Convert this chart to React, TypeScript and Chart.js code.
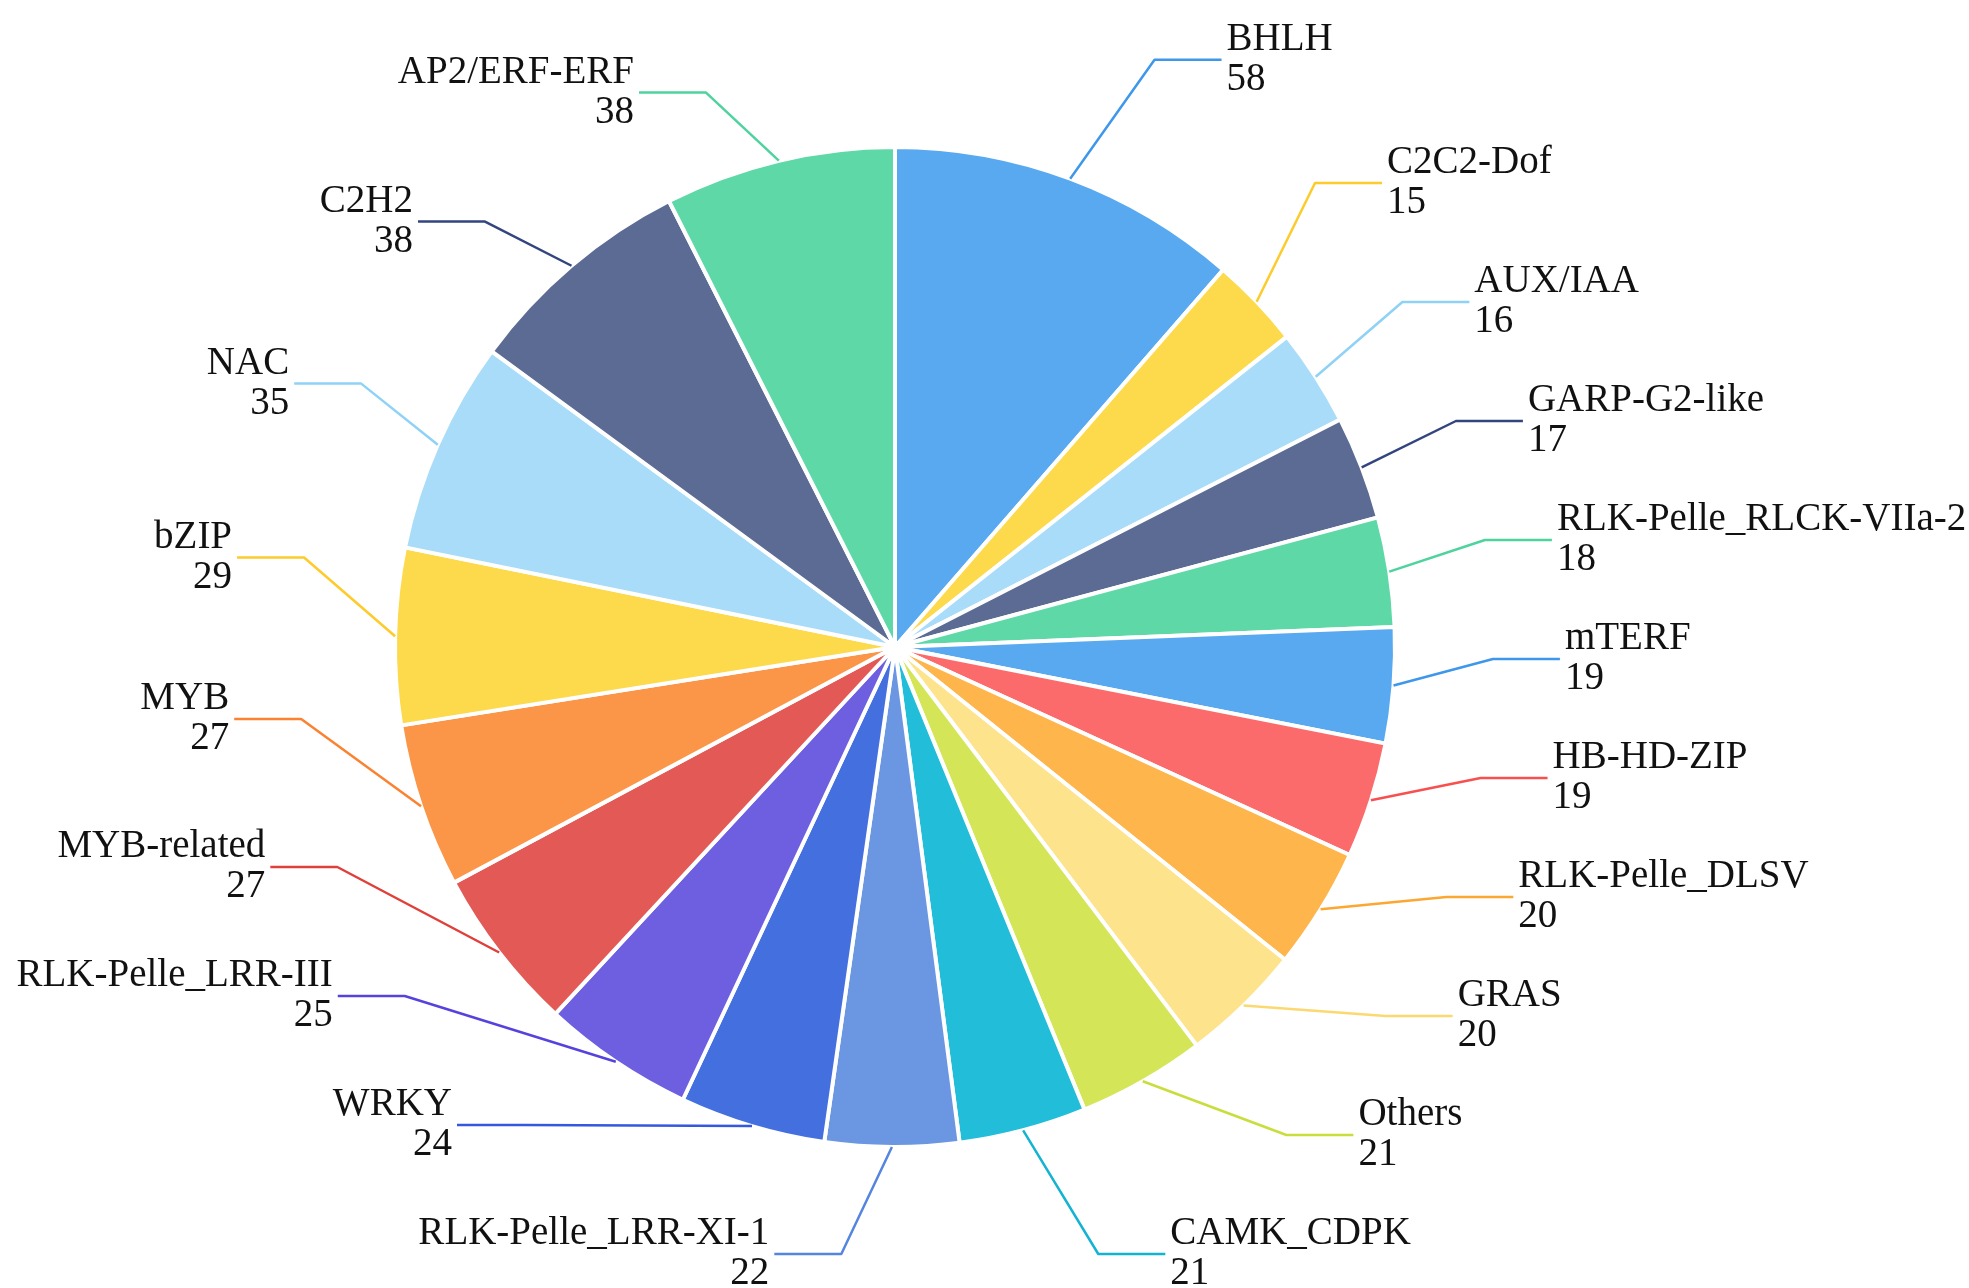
import React, { useEffect, useRef } from "react";
import Chart from "chart.js/auto";

// gene family counts, clockwise from 12 o'clock
const categories = [
  "BHLH", "C2C2-Dof", "AUX/IAA", "GARP-G2-like", "RLK-Pelle_RLCK-VIIa-2",
  "mTERF", "HB-HD-ZIP", "RLK-Pelle_DLSV", "GRAS", "Others",
  "CAMK_CDPK", "RLK-Pelle_LRR-XI-1", "WRKY", "RLK-Pelle_LRR-III", "MYB-related",
  "MYB", "bZIP", "NAC", "C2H2", "AP2/ERF-ERF",
];
const counts = [58, 15, 16, 17, 18, 19, 19, 20, 20, 21, 21, 22, 24, 25, 27, 27, 29, 35, 38, 38];
const sliceColors = [
  "#58A9F0", "#FDD94C", "#A8DCF8", "#5B6B94", "#5FD8A8",
  "#58A9F0", "#FB6B6B", "#FDB54C", "#FDE38C", "#D4E657",
  "#22BDD8", "#6B97E2", "#4470DF", "#6D5FE0", "#E35955",
  "#FB9547", "#FDD94C", "#A8DCF8", "#5B6B94", "#5FD8A8",
];
// leader lines are drawn a touch more saturated than the slices
const lineColors = [
  "#3F97EC", "#FDCB2C", "#8FD2F6", "#33457F", "#4FD39E",
  "#3F97EC", "#F84F4F", "#FCA732", "#FCD970", "#C9DE3C",
  "#14B3D2", "#5585DE", "#3458DF", "#5643DE", "#E0403B",
  "#FA8230", "#FDCB2C", "#8FD2F6", "#33457F", "#4FD39E",
];

// label layout tuning (canvas px)
const LINE_LEN = 70;
const KNEE_RX = 598;
const KNEE_EXTRA = 50;
const LINE_LEN2 = 67;
const TEXT_GAP = 5;
const LABEL_H_RIGHT = 119;
const LABEL_H_LEFT = 129;
const LINE_HEIGHT = 40;
const TOP_LIMIT = 34;
const BOTTOM_LIMIT = 1254;
const FONT = '39px "Liberation Serif", "Times New Roman", serif';

type Item = {
  i: number; dir: number;
  x1: number; y1: number; nx: number;
  top: number; y: number; kx: number;
};

// push overlapping labels apart on one side (echarts-like)
function shiftOnY(list: Item[], h: number, minBound: number, maxBound: number) {
  const len = list.length;
  if (len < 2) return;
  let lastPos = minBound;
  for (const it of list) {
    const delta = it.top - lastPos;
    if (delta < 0) it.top -= delta;
    lastPos = it.top + h;
  }
  const shiftList = (d: number, s: number, e: number) => {
    for (let i = s; i < e; i++) list[i].top += d;
  };
  const squeezeGaps = (delta: number, maxP: number) => {
    const gaps: number[] = [];
    let total = 0;
    for (let i = 1; i < len; i++) {
      const g = Math.max(list[i].top - list[i - 1].top - h, 0);
      gaps.push(g);
      total += g;
    }
    if (!total) return;
    const p = Math.min(Math.abs(delta) / total, maxP);
    if (delta > 0) {
      for (let i = 0; i < len - 1; i++) shiftList(gaps[i] * p, 0, i + 1);
    } else {
      for (let i = len - 1; i > 0; i--) shiftList(-gaps[i - 1] * p, i, len);
    }
  };
  let minGap = 0, maxGap = 0;
  const update = () => {
    minGap = list[0].top - minBound;
    maxGap = maxBound - list[len - 1].top - h;
  };
  const takeBoundsGap = (gapThis: number, gapOther: number, dir: number) => {
    if (gapThis >= 0) return;
    const move = Math.min(gapOther, -gapThis);
    if (move > 0) {
      shiftList(move * dir, 0, len);
      const remained = move + gapThis;
      if (remained < 0) squeezeGaps(-remained * dir, 1);
    } else {
      squeezeGaps(-gapThis * dir, 1);
    }
  };
  const bailout = (delta: number) => {
    const dir = delta < 0 ? -1 : 1;
    let d = Math.abs(delta);
    const step = Math.ceil(d / (len - 1));
    for (let i = 0; i < len - 1; i++) {
      if (dir > 0) shiftList(step, 0, i + 1);
      else shiftList(-step, len - i - 1, len);
      d -= step;
      if (d <= 0) return;
    }
  };
  update();
  if (minGap < 0) squeezeGaps(-minGap, 0.8);
  if (maxGap < 0) squeezeGaps(maxGap, 0.8);
  update();
  takeBoundsGap(minGap, maxGap, 1);
  takeBoundsGap(maxGap, minGap, -1);
  update();
  if (minGap < 0) bailout(-minGap);
  if (maxGap < 0) bailout(maxGap);
}

function layoutSide(list: Item[], h: number, cx: number, cy: number) {
  list.forEach((it) => (it.top = it.y - h / 2));
  list.sort((a, b) => a.top - b.top);
  shiftOnY(list, h, TOP_LIMIT - h / 2, BOTTOM_LIMIT + h / 2);
  // knees sit on an ellipse through the outermost label of each half
  const semis = [
    { list: [] as Item[], maxY: 0, rB: KNEE_RX },
    { list: [] as Item[], maxY: 0, rB: KNEE_RX },
  ];
  for (const it of list) {
    it.y = it.top + h / 2;
    const semi = it.y > cy ? semis[1] : semis[0];
    const dy = Math.abs(it.y - cy);
    if (dy >= semi.maxY) {
      const dx = it.nx - cx;
      semi.rB = Math.abs(dx) < KNEE_RX
        ? Math.sqrt((dy * dy) / (1 - (dx * dx) / (KNEE_RX * KNEE_RX)))
        : KNEE_RX;
      semi.maxY = dy;
    }
    semi.list.push(it);
  }
  for (const semi of semis) {
    for (const it of semi.list) {
      const dy = Math.abs(it.y - cy);
      const k = Math.sqrt(Math.max(0, 1 - (dy * dy) / (semi.rB * semi.rB))) * KNEE_RX;
      it.kx = cx + it.dir * k;
    }
  }
}

const pieLabels = {
  id: "pieLabels",
  afterDraw(chart: any) {
    const meta = chart.getDatasetMeta(0);
    const arcs = meta?.data;
    if (!arcs?.length) return;
    const left: Item[] = [];
    const right: Item[] = [];
    let cx = 0, cy = 0;
    arcs.forEach((arc: any, i: number) => {
      cx = arc.x; cy = arc.y;
      const r = arc.outerRadius;
      const mid = (arc.startAngle + arc.endAngle) / 2;
      const ux = Math.cos(mid), uy = Math.sin(mid);
      const dir = ux < 0 ? -1 : 1;
      const item: Item = {
        i, dir,
        x1: cx + r * ux, y1: cy + r * uy,
        nx: cx + KNEE_RX * ux + dir * KNEE_EXTRA,
        top: 0, y: cy + (r + LINE_LEN) * uy, kx: 0,
      };
      (dir < 0 ? left : right).push(item);
    });
    layoutSide(left, LABEL_H_LEFT, cx, cy);
    layoutSide(right, LABEL_H_RIGHT, cx, cy);

    const ctx = chart.ctx;
    ctx.save();
    for (const it of [...left, ...right]) {
      const ex = it.kx + it.dir * LINE_LEN2;
      ctx.strokeStyle = lineColors[it.i];
      ctx.lineWidth = 2.5;
      ctx.lineJoin = "round";
      ctx.beginPath();
      ctx.moveTo(it.x1, it.y1);
      ctx.lineTo(it.kx, it.y);
      ctx.lineTo(ex, it.y);
      ctx.stroke();

      const tx = ex + it.dir * TEXT_GAP;
      ctx.fillStyle = "#111";
      ctx.font = FONT;
      ctx.textAlign = it.dir < 0 ? "right" : "left";
      ctx.textBaseline = "middle";
      ctx.fillText(categories[it.i], tx, it.y - LINE_HEIGHT / 2);
      ctx.fillText(String(counts[it.i]), tx, it.y + LINE_HEIGHT / 2);
    }
    ctx.restore();
  },
};

export default function App() {
  const canvasRef = useRef<HTMLCanvasElement>(null);
  const chartRef = useRef<Chart | null>(null);

  useEffect(() => {
    if (!canvasRef.current) return;
    chartRef.current?.destroy();
    chartRef.current = new Chart(canvasRef.current, {
      type: "pie",
      data: {
        labels: categories,
        datasets: [
          {
            data: counts,
            backgroundColor: sliceColors,
            borderColor: "#ffffff",
            borderWidth: 4,
            radius: 500,
          } as any,
        ],
      },
      options: {
        animation: false,
        responsive: true,
        maintainAspectRatio: false,
        layout: { padding: { left: 0, right: 179, top: 6, bottom: 0 } },
        plugins: {
          legend: { display: false },
          tooltip: { enabled: false },
        },
      },
      plugins: [pieLabels],
    });
    return () => {
      chartRef.current?.destroy();
      chartRef.current = null;
    };
  }, []);

  return (
    <div
      style={{
        position: "absolute",
        left: 0,
        top: 0,
        width: 1969,
        height: 1288,
        background: "#fff",
      }}
    >
      <canvas ref={canvasRef} />
    </div>
  );
}
